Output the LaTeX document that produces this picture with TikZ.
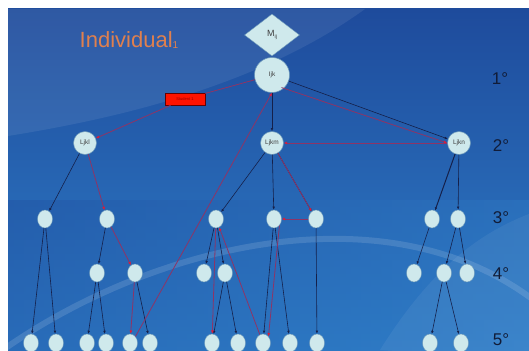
\documentclass[tikz,border=0pt]{standalone}
\usepackage{fontspec}
\setmainfont{Liberation Sans}
\usetikzlibrary{shapes.geometric,arrows.meta}
\definecolor{bgtop}{HTML}{1E4B9C}
\definecolor{bgbot}{HTML}{2F7EC8}
\definecolor{nodefill}{HTML}{CFE9EC}
\definecolor{nodeline}{HTML}{6A97B8}
\definecolor{edgeblue}{HTML}{15204A}
\definecolor{edgered}{HTML}{8E3466}
\definecolor{tipred}{HTML}{D81E3C}
\definecolor{titleorange}{HTML}{E0804E}
\definecolor{levelink}{HTML}{111C38}
\tikzset{
  leaf/.style={ellipse, fill=nodefill, draw=nodeline, line width=0.4pt,
    minimum width=15pt, minimum height=18pt, inner sep=0pt},
  hub/.style={circle, fill=nodefill, draw=nodeline, line width=0.5pt,
    minimum size=23pt, inner sep=0pt, font=\fontsize{6.5}{7}\selectfont, text=black!75},
  root/.style={circle, fill=nodefill, draw=nodeline, line width=0.5pt,
    minimum size=35pt, inner sep=0pt, font=\fontsize{6.5}{7}\selectfont, text=black!75},
  link/.style={draw=edgeblue, line width=0.6pt, -{Latex[length=3.2pt,width=2.6pt]}},
  redlink/.style={draw=edgered, line width=0.8pt, -{Latex[length=3.4pt,width=3pt,color=tipred]}},
  redplain/.style={draw=edgered, line width=0.8pt},
  level/.style={font=\fontsize{17}{17}\selectfont, text=levelink}
}
\begin{document}
\begin{tikzpicture}[x=1pt,y=-1pt]
\useasboundingbox (0,0) rectangle (529,350);
\fill[white] (0,0) rectangle (529,350);
\begin{scope}
\clip (8,9) rectangle (529,350);
% blue backdrop
\shade[top color=bgtop, bottom color=bgbot] (8,9) rectangle (529,350);
\shade[left color=bgtop, right color=bgbot, opacity=0.35] (8,200) rectangle (529,350);
% lighter sweep in the upper left
\fill[white, opacity=0.08] (8,9) -- (365,9) .. controls (260,85) and (120,118) .. (8,136) -- cycle;
% faint light arcs in the lower part
\draw[white, opacity=0.13, line width=6pt] (0,352) .. controls (150,245) and (390,185) .. (540,305);
\fill[white, opacity=0.06] (380,350) .. controls (430,270) and (480,230) .. (540,210) -- (540,360) -- cycle;
\end{scope}

% title and level labels
\node[font=\fontsize{22}{22}\selectfont, text=titleorange] (title) at (129,40)
  {Individual\raisebox{-1.5pt}{\fontsize{10}{10}\selectfont 1}};
\node[level] (l1) at (500,79) {1°};
\node[level] (l2) at (501,146) {2°};
\node[level] (l3) at (501,218) {3°};
\node[level] (l4) at (501,274) {4°};
\node[level] (l5) at (501,340) {5°};

% top of the tree
\node[diamond, fill=nodefill, draw=nodeline, line width=0.4pt, minimum width=55pt,
  minimum height=42pt, inner sep=0pt, font=\fontsize{9}{9}\selectfont, text=black!75] (M) at (272,35)
  {M\raisebox{-1.5pt}{\fontsize{5.5}{5.5}\selectfont ij}};
\node[root] (I) at (272,75) {Ijk};
\node[fill=red!85!orange, draw=red!40!black, line width=0.7pt, minimum width=40pt,
  minimum height=12pt, inner sep=0pt, font=\fontsize{4}{4}\selectfont, text=red!60!black] (S) at (185,99) {Student 1};
\node[hub] (A) at (85,143) {Ljkl};
\node[hub] (B) at (272,143) {Ljkm};
\node[hub] (C) at (459,143) {Ljkn};

% third level
\foreach \n/\x in {a1/45, a2/107, b1/216, b2/274, b3/316, c1/432, c2/458}
  \node[leaf] (\n) at (\x,219) {};
% fourth level
\foreach \n/\x in {a3/97, a4/135, b4/204, b5/225, c3/414, c4/444, c5/467}
  \node[leaf] (\n) at (\x,273) {};
% fifth level
\foreach \n/\x in {x1/31, x2/56, x3/87, x4/106, x5/130, x6/150, y1/212, y2/238, y3/263, y4/290, y5/317, z1/430, z2/461}
  \node[leaf] (\n) at (\x,343) {};

% plain links
\draw[link] (I) -- (B);
\draw[link] (I) -- (C);
\draw[link] (A) -- (a1);
\draw[link] (a1) -- (x1);
\draw[link] (a1) -- (x2);
\draw[link] (a2) -- (a3);
\draw[link] (a3) -- (x3);
\draw[link] (a3) -- (x4);
\draw[link] (a4) -- (x6);
\draw[link] (B) -- (b1);
\draw[link] (B) -- (b2);
\draw[link] (B) -- (b3);
\draw[link] (b1) -- (b4);
\draw[link] (b1) -- (b5);
\draw[link] (b5) -- (y1);
\draw[link] (b5) -- (y2);
\draw[link] (b2) -- (y3);
\draw[link] (b2) -- (y4);
\draw[link] (b3) -- (y5);
\draw[link, line width=1pt] (C) -- (c1);
\draw[link] (C) -- (c2);
\draw[link] (c1) -- (c3);
\draw[link] (c2) -- (c4);
\draw[link] (c2) -- (c5);
\draw[link] (c4) -- (z1);
\draw[link] (c4) -- (z2);

% highlighted path
\draw[redplain] (I) -- (S);
\draw[redlink] (S) -- (A);
\draw[redlink] (A) -- (a2);
\draw[redlink] (a2) -- (a4);
\draw[redlink] (a4) -- (x5);
\draw[redlink] (x5.north east) -- (I.south);
\draw[redlink] ([xshift=-3pt]I.south east) -- (C.west);
\draw[redlink] (C) -- (B);
\draw[redlink] (B) -- (b3);
\draw[redlink] (b3) -- (b2);
\draw[redlink] (b2.south east) -- (y3.north east);
\draw[redlink] (y3) -- (b1);
\draw[redlink] (b1) -- (y1);
\end{tikzpicture}
\end{document}
